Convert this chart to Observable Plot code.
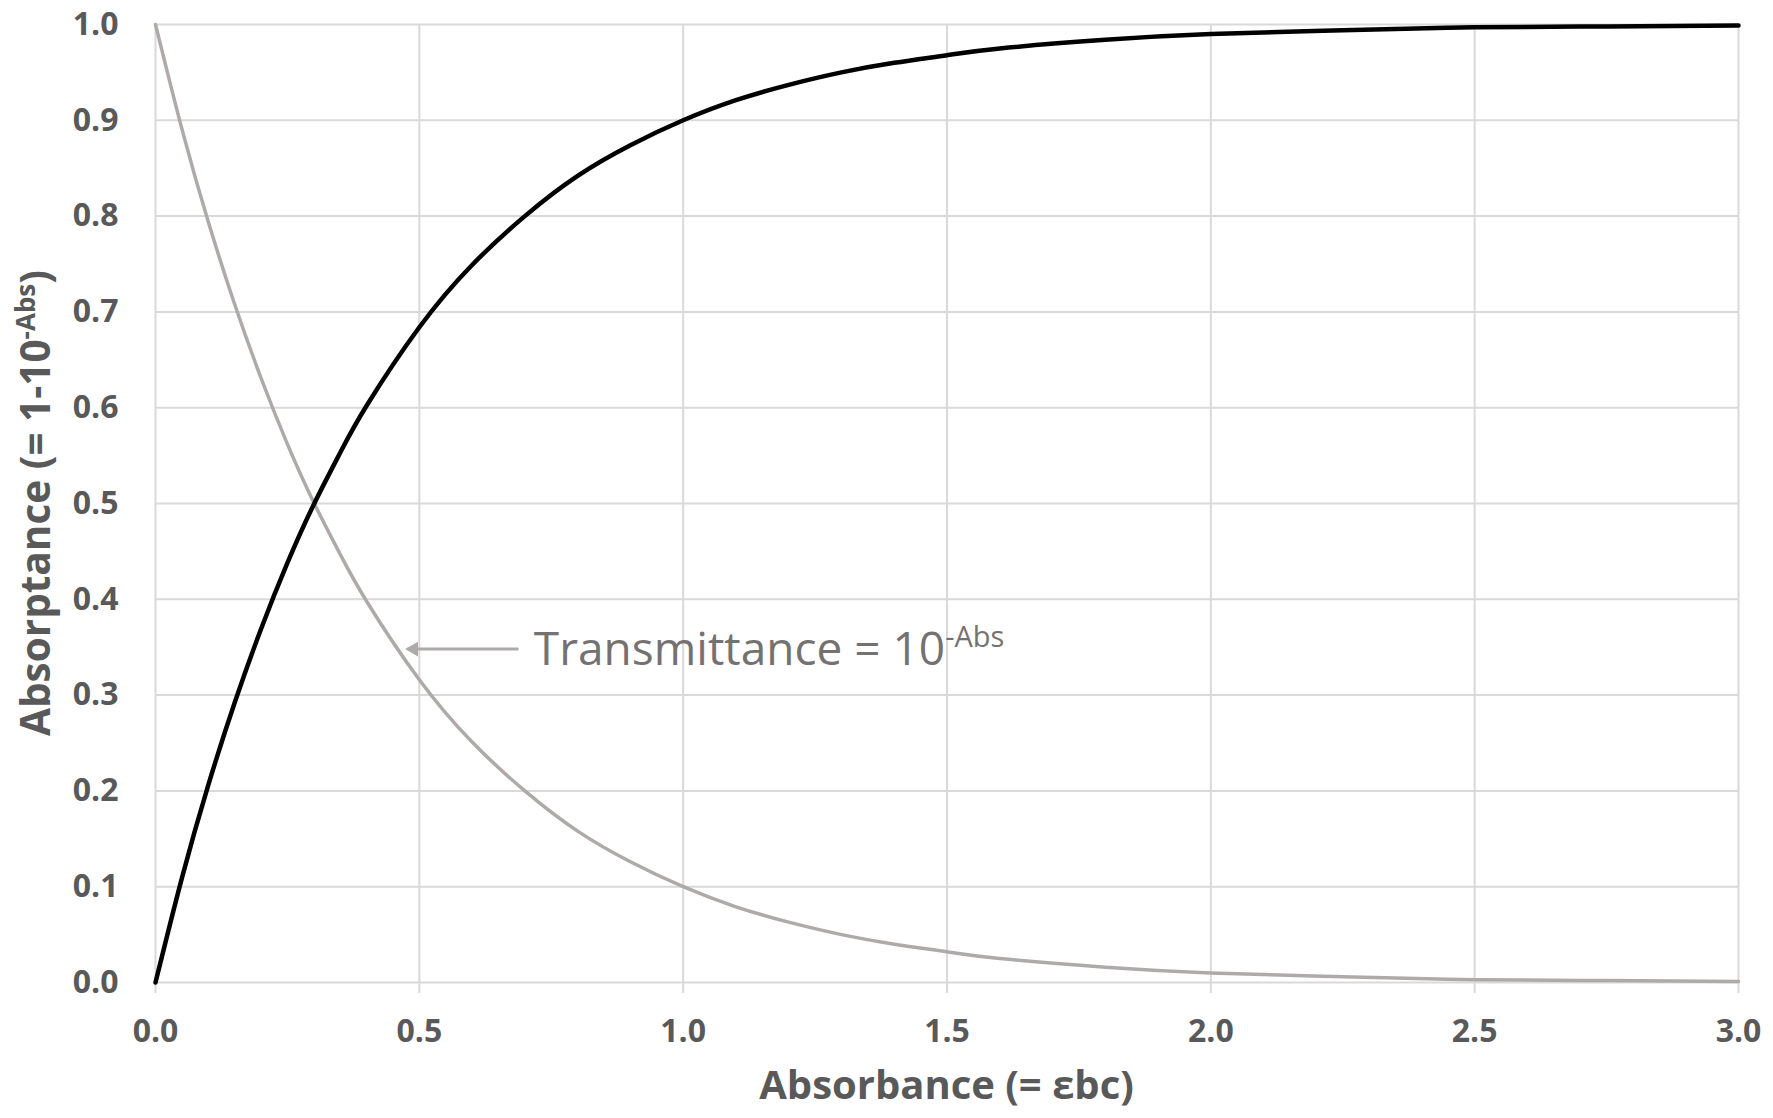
<!DOCTYPE html>
<html><head><meta charset="utf-8">
<script src="https://cdn.jsdelivr.net/npm/d3@7"></script>
<script src="https://cdn.jsdelivr.net/npm/@observablehq/plot@0.6"></script>
<style>html,body{margin:0;padding:0;background:#fff}#chart svg{display:block}</style>
</head><body><div id="chart"></div>
<script>
// Values
const absorbance    = [0, 0.05, 0.1, 0.15, 0.2, 0.25, 0.3, 0.35, 0.4, 0.5, 0.6, 0.7, 0.8, 0.9, 1.0, 1.1, 1.2, 1.3, 1.4, 1.5, 1.6, 1.8, 2.0, 2.25, 2.5, 2.75, 3.0];
const transmittance = [1.0, 0.891, 0.794, 0.708, 0.631, 0.562, 0.501, 0.447, 0.398, 0.316, 0.251, 0.200, 0.158, 0.126, 0.100, 0.079, 0.063, 0.050, 0.040, 0.032, 0.025, 0.016, 0.010, 0.006, 0.003, 0.002, 0.001];
const absorptance   = [0, 0.109, 0.206, 0.292, 0.369, 0.438, 0.499, 0.553, 0.602, 0.684, 0.749, 0.800, 0.842, 0.874, 0.900, 0.921, 0.937, 0.950, 0.960, 0.968, 0.975, 0.984, 0.990, 0.994, 0.997, 0.998, 0.999];
const xTicks = [0, 0.5, 1.0, 1.5, 2.0, 2.5, 3.0];
const yTicks = [0, 0.1, 0.2, 0.3, 0.4, 0.5, 0.6, 0.7, 0.8, 0.9, 1.0];
const xTitle = ["Absorbance (= εbc)"];
const yTitle = ["Absorptance (= 1-10", "-Abs", ")"];
const noteText = ["Transmittance = 10", "-Abs"];
// annotation anchor points in data units
const arrowX1 = [0.688], arrowX2 = [0.478], arrowY = [0.348];
const noteX = [0.718], noteY = [0.331];

const rowsT = absorbance.map((a, i) => ({a, v: transmittance[i]}));
const rowsA = absorbance.map((a, i) => ({a, v: absorptance[i]}));
const arrow = arrowY.map((y, i) => ({x1: arrowX1[i], x2: arrowX2[i], y}));

const FONT = "'Open Sans', 'DejaVu Sans', sans-serif";
const plot = Plot.plot({
  width: 1773, height: 1118,
  marginLeft: 155, marginRight: 35, marginTop: 24, marginBottom: 136,
  style: {fontFamily: FONT, background: "#fff", overflow: "visible"},
  x: {domain: [0, 3], ticks: xTicks},
  y: {domain: [0, 1], ticks: yTicks},
  marks: [
    Plot.gridX(xTicks, {stroke: "#d9d9d9", strokeOpacity: 1, strokeWidth: 2}),
    Plot.gridY(yTicks, {stroke: "#d9d9d9", strokeOpacity: 1, strokeWidth: 2}),
    Plot.axisX({ticks: xTicks, tickSize: 11, tickPadding: 26, stroke: "#d9d9d9", strokeWidth: 2, strokeOpacity: 1,
      tickFormat: d => d.toFixed(1), fontSize: 32, fontWeight: 700, fill: "#595959", label: null}),
    Plot.axisY({ticks: yTicks, tickSize: 0, tickPadding: 37,
      tickFormat: d => d.toFixed(1), fontSize: 32, fontWeight: 700, fill: "#595959", label: null}),
    Plot.line(rowsT, {x: "a", y: "v", stroke: "#aeaaaa", strokeWidth: 3.5, curve: "natural"}),
    Plot.line(rowsA, {x: "a", y: "v", stroke: "#000", strokeWidth: 4.5, curve: "natural"}),
    Plot.link(arrow, {x1: "x1", x2: "x2", y1: "y", y2: "y", stroke: "#aeaaaa", strokeWidth: 3}),
    Plot.dot(arrow, {x: "x2", y: "y", symbol: "triangle", r: 5.5, rotate: -90, fill: "#aeaaaa", stroke: "none", dx: 6})
  ]
});
document.getElementById("chart").appendChild(plot);

const sx = plot.scale("x"), sy = plot.scale("y");
const svg = d3.select(plot);
const cx = (sx.apply(0) + sx.apply(3)) / 2;
const cy = (sy.apply(0) + sy.apply(1)) / 2;

// x title
svg.append("text").attr("x", cx).attr("y", 1099).attr("text-anchor", "middle")
  .attr("font-family", FONT).attr("font-size", 40).attr("font-weight", 700).attr("fill", "#595959")
  .text(xTitle[0]);

// y title with superscript
const yt = svg.append("text").attr("transform", `translate(50,${cy}) rotate(-90)`).attr("text-anchor", "middle")
  .attr("font-family", FONT).attr("font-size", 40.5).attr("font-weight", 700).attr("fill", "#595959");
yt.append("tspan").text(yTitle[0]);
yt.append("tspan").attr("font-size", 26).attr("dy", -15).text(yTitle[1]);
yt.append("tspan").attr("dy", 15).text(yTitle[2]);

// annotation text
const nt = svg.append("text").attr("x", sx.apply(noteX[0])).attr("y", sy.apply(noteY[0]))
  .attr("text-anchor", "start")
  .attr("font-family", FONT).attr("font-size", 46).attr("fill", "#767171");
nt.append("tspan").text(noteText[0]);
nt.append("tspan").attr("font-size", 29).attr("dy", -18).text(noteText[1]);
</script></body></html>
